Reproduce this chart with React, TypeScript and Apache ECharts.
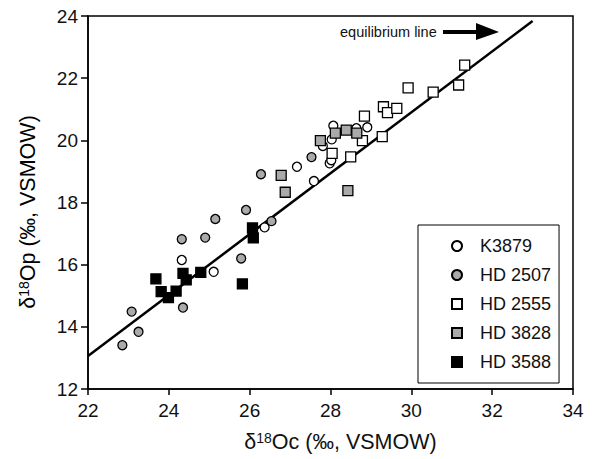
import React, { useEffect, useRef } from "react";
import * as echarts from "echarts";

const seriesNames = ["K3879", "HD 2507", "HD 2555", "HD 3828", "HD 3588"];

const k3879: number[][] = [
  [24.32, 16.15], [25.11, 15.77], [26.37, 17.2], [27.17, 19.15], [27.59, 18.69],
  [27.81, 19.82], [27.98, 19.26], [28.02, 19.36], [28.03, 20.03], [28.07, 20.47],
  [28.64, 20.39], [28.91, 20.42],
];
const hd2507: number[][] = [
  [22.85, 13.41], [23.08, 14.49], [23.25, 13.84], [24.35, 14.62], [24.32, 16.82],
  [24.9, 16.87], [25.15, 17.47], [25.79, 16.2], [25.91, 17.76], [26.28, 18.91],
  [26.54, 17.4], [27.53, 19.46],
];
const hd2555: number[][] = [
  [28.04, 19.58], [28.5, 19.47], [28.79, 19.99], [28.84, 20.78], [29.28, 20.12],
  [29.31, 21.08], [29.41, 20.89], [29.64, 21.03], [29.92, 21.69], [30.54, 21.55],
  [31.17, 21.78], [31.32, 22.42],
];
const hd3828: number[][] = [
  [26.78, 18.87], [26.88, 18.33], [27.75, 19.99], [28.12, 20.23], [28.39, 20.33],
  [28.65, 20.23], [28.43, 18.38],
];
const hd3588: number[][] = [
  [23.68, 15.54], [23.81, 15.13], [23.99, 14.94], [24.18, 15.15], [24.35, 15.72],
  [24.43, 15.51], [24.79, 15.75], [25.82, 15.38], [26.07, 17.18], [26.09, 16.86],
];
const equilibriumLine: number[][] = [
  [22, 13.06], [33, 23.84],
];

const xTicks = [22, 24, 26, 28, 30, 32, 34];
const yTicks = [12, 14, 16, 18, 20, 22, 24];

const xTitle = "{d|δ}{s|18}{d|Oc (‰, VSMOW)}";
const yTitle = "{d|δ}{s|18}{d|Op (‰, VSMOW)}";

const FONT = "Liberation Sans, Arial, sans-serif";

export default function App() {
  const ref = useRef<HTMLDivElement>(null);
  useEffect(() => {
    if (!ref.current) return;
    const chart = echarts.init(ref.current, undefined, { renderer: "svg" });
    const marker = (name: string, data: number[][], symbol: string, size: number, fill: string) => ({
      name,
      type: "scatter",
      data,
      symbol,
      symbolSize: size,
      itemStyle: { color: fill, borderColor: "#000", borderWidth: 1.3, opacity: 1 },
      z: 3,
    });
    const rich = {
      d: { fontSize: 21.5, fontFamily: FONT, color: "#111" },
      s: { fontSize: 14, fontFamily: FONT, color: "#111", padding: [0, 0, 8, 0] },
    };
    chart.setOption({
      animation: false,
      grid: {
        left: 88,
        right: 27,
        top: 16,
        bottom: 70,
        show: true,
        borderColor: "#000",
        borderWidth: 1.5,
        containLabel: false,
      },
      xAxis: {
        type: "value",
        min: xTicks[0],
        max: xTicks[xTicks.length - 1],
        interval: 2,
        name: xTitle,
        nameLocation: "middle",
        nameGap: 42,
        nameTextStyle: { rich, padding: [0, 0, 0, 20] },
        axisLine: { show: true, lineStyle: { color: "#000", width: 1.5 } },
        axisTick: { show: true, length: 6, lineStyle: { color: "#000", width: 1.5 } },
        axisLabel: { fontSize: 19, fontFamily: FONT, color: "#111", margin: 12 },
        splitLine: { show: false },
      },
      yAxis: {
        type: "value",
        min: yTicks[0],
        max: yTicks[yTicks.length - 1],
        interval: 2,
        axisLine: { show: true, lineStyle: { color: "#000", width: 1.5 } },
        axisTick: { show: true, length: 7, lineStyle: { color: "#000", width: 1.5 } },
        axisLabel: { fontSize: 19, fontFamily: FONT, color: "#111", margin: 10 },
        splitLine: { show: false },
      },
      legend: {
        data: seriesNames,
        orient: "vertical",
        left: 418,
        top: 225,
        padding: [11, 8, 11, 33],
        itemWidth: 10,
        itemHeight: 10,
        itemGap: 9,
        borderColor: "#000",
        borderWidth: 1,
        backgroundColor: "#fff",
        textStyle: { fontSize: 18, fontFamily: FONT, color: "#111", lineHeight: 20, padding: [0, 0, 0, 13] },
      },
      series: [
        {
          name: "equilibrium",
          type: "line",
          data: equilibriumLine,
          symbol: "none",
          lineStyle: { color: "#000", width: 2.5 },
          z: 2,
        },
        marker(seriesNames[0], k3879, "circle", 9, "#fff"),
        marker(seriesNames[1], hd2507, "circle", 9, "#aaa"),
        marker(seriesNames[2], hd2555, "rect", 10, "#fff"),
        marker(seriesNames[3], hd3828, "rect", 10, "#aaa"),
        marker(seriesNames[4], hd3588, "rect", 10, "#000"),
      ],
      graphic: [
        {
          type: "text",
          x: 28,
          y: 212,
          rotation: Math.PI / 2,
          style: { text: yTitle, rich, align: "center", verticalAlign: "middle" },
        },
        {
          type: "text",
          left: 340,
          top: 24,
          style: { text: "equilibrium line", fontSize: 14.5, fontFamily: FONT, fill: "#111" },
        },
        {
          type: "line",
          shape: { x1: 443, y1: 32, x2: 479, y2: 32 },
          style: { stroke: "#000", lineWidth: 4 },
        },
        {
          type: "polygon",
          shape: { points: [[476, 23], [499, 32], [476, 40]] },
          style: { fill: "#000" },
        },
      ],
    });
    return () => chart.dispose();
  }, []);
  return <div ref={ref} style={{ width: 600, height: 459, position: "absolute", left: 0, top: 0, background: "#fff" }} />;
}
